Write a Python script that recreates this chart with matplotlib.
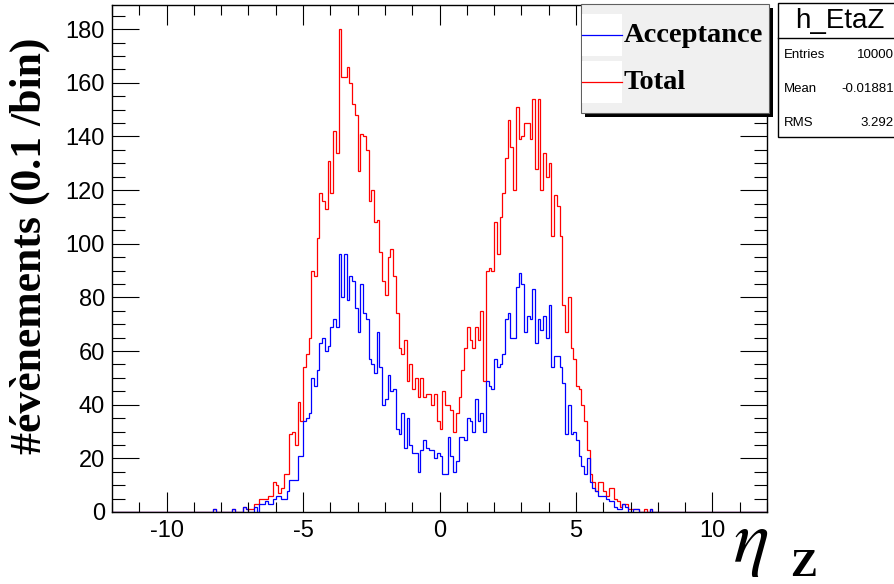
import matplotlib

matplotlib.use("Agg")
import matplotlib.pyplot as plt
import numpy as np
from matplotlib.patches import Rectangle

plt.rcParams["mathtext.fontset"] = "stix"

# histogram binning: 240 bins of 0.1 between -12 and 12
ETA_MIN = -12.0
BIN_WIDTH = 0.1
N_BINS = 240
FIRST_BIN = 37  # first listed bin (eta = -8.3)

# counts per bin, starting at FIRST_BIN
total_counts = [
    1, 0, 0, 0, 0, 0, 0, 1, 0, 0,
    0, 2, 1, 1, 1, 3, 3, 5, 5, 5,
    6, 6, 11, 10, 7, 9, 14, 14, 29, 30,
    25, 41, 34, 54, 59, 65, 90, 88, 102, 119,
    116, 113, 131, 119, 142, 134, 180, 162, 162, 166,
    160, 152, 148, 127, 141, 140, 135, 116, 120, 108,
    109, 97, 86, 81, 95, 98, 88, 74, 61, 59,
    64, 49, 55, 46, 50, 43, 50, 43, 44, 44,
    40, 44, 34, 31, 45, 40, 40, 38, 30, 37,
    43, 53, 61, 69, 64, 61, 69, 64, 75, 49,
    90, 91, 90, 108, 96, 110, 119, 132, 146, 136,
    120, 151, 139, 140, 145, 145, 139, 154, 128, 154,
    120, 134, 125, 130, 103, 118, 114, 103, 77, 67,
    80, 61, 57, 47, 46, 40, 34, 23, 14, 11,
    8, 11, 11, 8, 6, 9, 9, 5, 4, 2,
    3, 3, 1, 1, 1, 1, 0, 0, 1, 0,
    1,
]
acceptance_counts = [
    1, 0, 0, 0, 0, 0, 0, 1, 0, 0,
    0, 2, 1, 0, 0, 2, 0, 3, 3, 4,
    3, 3, 5, 6, 6, 5, 5, 8, 12, 12,
    12, 21, 21, 34, 35, 37, 50, 47, 53, 63,
    65, 60, 62, 69, 72, 69, 96, 80, 96, 79,
    88, 86, 76, 67, 85, 74, 72, 57, 55, 52,
    67, 54, 40, 42, 51, 45, 46, 31, 29, 37,
    24, 35, 25, 22, 22, 15, 23, 27, 24, 23,
    23, 20, 22, 21, 14, 14, 28, 21, 15, 19,
    28, 28, 27, 35, 34, 30, 42, 34, 37, 30,
    49, 47, 46, 57, 54, 55, 59, 72, 74, 65,
    65, 84, 89, 85, 67, 73, 72, 83, 63, 72,
    68, 73, 65, 77, 54, 58, 58, 54, 48, 29,
    40, 29, 30, 27, 21, 17, 14, 20, 11, 9,
    8, 6, 6, 6, 5, 4, 4, 2, 1, 1,
    3, 2, 0, 0, 1, 1, 0, 0, 0, 0,
    1,
]

x_tick_labels = ["-10", "-5", "0", "5", "10"]
y_tick_labels = ["0", "20", "40", "60", "80", "100", "120", "140", "160", "180"]

stats_title = "h_EtaZ"
stats_names = ["Entries", "Mean", "RMS"]
stats_values = ["10000", "-0.01881", "3.292"]

legend_labels = ["Acceptance", "Total"]
legend_colors = ["#0000ff", "#ff0000"]


def full_hist(counts):
    h = np.zeros(N_BINS)
    h[FIRST_BIN:FIRST_BIN + len(counts)] = counts
    return h


edges = np.round(ETA_MIN + BIN_WIDTH * np.arange(N_BINS + 1), 2)
h_total = full_hist(total_counts)
h_acc = full_hist(acceptance_counts)

W, H = 894, 584
fig = plt.figure(figsize=(W / 100, H / 100), dpi=100)
ax = fig.add_axes([112 / W, 72 / H, 655 / W, 507 / H])

ax.stairs(h_total, edges, color=legend_colors[1], linewidth=0.9)
ax.stairs(h_acc, edges, color=legend_colors[0], linewidth=0.9)

ax.set_xlim(-12, 12)
ax.set_ylim(0, 189)
for s in ax.spines.values():
    s.set_linewidth(1.0)

ax.set_xticks([float(t) for t in x_tick_labels])
ax.set_xticklabels(x_tick_labels)
ax.set_xticks(np.arange(-12, 13, 1), minor=True)
ax.set_yticks([float(t) for t in y_tick_labels])
ax.set_yticklabels(y_tick_labels)
ax.set_yticks(np.arange(0, 189, 5), minor=True)

ax.tick_params(which="both", direction="in", top=True, right=True, width=0.8)
ax.tick_params(axis="x", which="major", length=14.4, pad=6)
ax.tick_params(axis="x", which="minor", length=7.2)
ax.tick_params(axis="y", which="major", length=19.4, pad=5)
ax.tick_params(axis="y", which="minor", length=9.4)
for lab in ax.get_xticklabels() + ax.get_yticklabels():
    lab.set_fontfamily("Liberation Sans")
    lab.set_fontsize(17)

# overlay in pixel coordinates for legend, stats box and axis titles
ov = fig.add_axes([0, 0, 1, 1])
ov.set_xlim(0, W)
ov.set_ylim(H, 0)
ov.axis("off")

# legend with shadow
ov.add_patch(Rectangle((585, 8), 188, 109, facecolor="black", edgecolor="none"))
ov.add_patch(Rectangle((581, 4), 188, 109, facecolor="#f0f0f0",
                       edgecolor="#606060", linewidth=0.8))
for i, (lab, col) in enumerate(zip(legend_labels, legend_colors)):
    yc = 34.5 + 47 * i
    ov.add_patch(Rectangle((582, yc - 21), 40, 42, facecolor="white",
                           edgecolor="none"))
    ov.plot([582, 622], [yc, yc], color=col, linewidth=0.9)
    ov.text(624, yc + 1, lab, ha="left", va="center", fontsize=20.5,
            fontfamily="Liberation Serif", fontweight="bold")

# stats box
ov.add_patch(Rectangle((778, 3), 125, 134, facecolor="white",
                       edgecolor="black", linewidth=1.0, clip_on=False))
ov.plot([778, 903], [38, 38], color="black", linewidth=1.0)
ov.text(840, 21, stats_title, ha="center", va="center", fontsize=20,
        fontfamily="Liberation Sans")
for i, (name, val) in enumerate(zip(stats_names, stats_values)):
    yc = 55 + 34 * i
    ov.text(784, yc, name, ha="left", va="center", fontsize=9.5,
            fontfamily="Liberation Sans")
    ov.text(894, yc, val, ha="right", va="center", fontsize=9.5,
            fontfamily="Liberation Sans")

# axis titles
ov.text(30, 246, "#évènements (0.1 /bin)", rotation=90, ha="center",
        va="center", fontsize=31.5, fontfamily="Liberation Serif",
        fontweight="bold")
ov.text(733, 562, r"$\eta$", ha="left", va="baseline", fontsize=54)
ov.text(790, 576, "Z", ha="left", va="baseline", fontsize=29,
        fontfamily="Liberation Serif", fontweight="bold")

fig.savefig("out.png", dpi=100)
